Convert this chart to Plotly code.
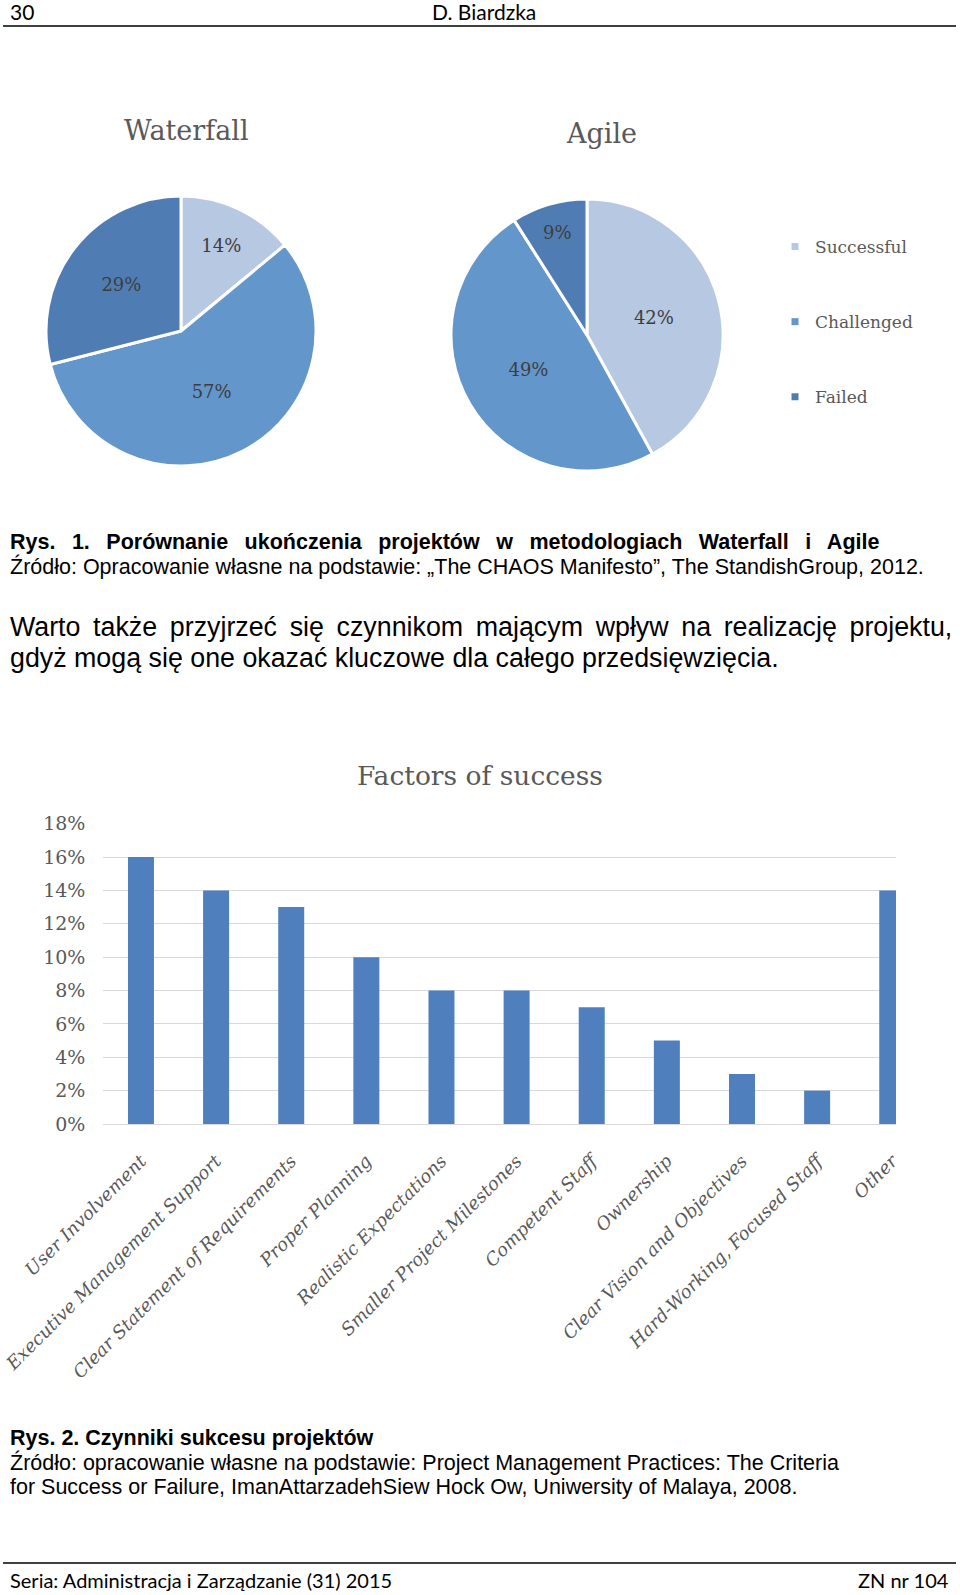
import plotly.graph_objects as go

W, H = 960, 1595

# ---------------- data ----------------
pie_labels = ["Successful", "Challenged", "Failed"]
waterfall_values = [14, 57, 29]
agile_values = [42, 49, 9]
pie_colors = ["#b7c8e2", "#6396cb", "#4f7db3"]

factors = ["User Involvement", "Executive Management Support",
           "Clear Statement of Requirements", "Proper Planning",
           "Realistic Expectations", "Smaller Project Milestones",
           "Competent Staff", "Ownership", "Clear Vision and Objectives",
           "Hard-Working, Focused Staff", "Other"]
factor_values = [0.16, 0.14, 0.13, 0.10, 0.08, 0.08, 0.07, 0.05, 0.03, 0.02, 0.14]

def py(px):
    return 1 - px / H

def px_x(px):
    return px / W

SERIF = "DejaVu Serif"
SANS = "Liberation Sans, Arial"
CAL = "Lato, Open Sans"
GRAY = "#595959"

fig = go.Figure()

# ---------------- pies ----------------
def pie_domain(cx, cy, r):
    return dict(x=[px_x(cx - r), px_x(cx + r)], y=[py(cy + r), py(cy - r)])

for vals, dom in [(waterfall_values, pie_domain(181, 331, 135)),
                  (agile_values, pie_domain(587, 335, 136))]:
    fig.add_trace(go.Pie(
        labels=pie_labels, values=vals, sort=False, direction="clockwise",
        rotation=0, domain=dom, showlegend=False,
        marker=dict(colors=pie_colors, line=dict(color="white", width=3)),
        texttemplate="%{value}%", textposition="inside",
        insidetextorientation="horizontal",
        textfont=dict(family=SERIF, size=18, color="#3d3d3d"),
        hoverinfo="label+percent"))

# legend entries (dummy traces, no data)
for lab, col in zip(pie_labels, pie_colors):
    fig.add_trace(go.Scatter(
        x=[None], y=[None], mode="markers", name=lab, legendgroup=lab,
        marker=dict(symbol="square", size=7, color=col),
        xaxis="x", yaxis="y", showlegend=True))

# ---------------- bar chart ----------------
fig.add_trace(go.Bar(
    x=factors, y=factor_values, marker=dict(color="#4f80bd", line=dict(width=0)),
    showlegend=False, xaxis="x", yaxis="y"))

fig.update_layout(
    width=W, height=H,
    margin=dict(l=0, r=0, t=0, b=0, autoexpand=False),
    paper_bgcolor="white", plot_bgcolor="white",
    bargap=0.654,
    showlegend=True,
    legend=dict(x=px_x(775), y=py(229), xanchor="left", yanchor="top",
                font=dict(family=SERIF, size=17, color=GRAY),
                tracegroupgap=50, itemwidth=30, bgcolor="rgba(0,0,0,0)"),
    xaxis=dict(domain=[px_x(103.4), px_x(896)], range=[-0.5, 10.05],
               type="category", showgrid=False, zeroline=False, showline=False,
               ticks="", tickangle=-45, ticklabelstandoff=22, automargin=False,
               tickfont=dict(family=SERIF, size=18, color=GRAY, style="italic"),
               fixedrange=True),
    yaxis=dict(domain=[py(1124), py(823.3)], range=[0, 0.1802], dtick=0.02,
               tickformat=".0%", showgrid=True, gridcolor="#d9d9d9", gridwidth=1,
               zeroline=True, zerolinecolor="#d9d9d9", zerolinewidth=1,
               showline=False, ticks="", ticklabelstandoff=17, automargin=False,
               tickfont=dict(family=SERIF, size=19, color=GRAY),
               fixedrange=True),
)

ann = []

def text(x, y, s, size, family, color="black", xanchor="left", bold=False, wsp=None):
    if wsp is not None:
        s = '<span style="word-spacing:%.1fpx">' % wsp + s + "</span>"
    if bold:
        s = "<b>" + s + "</b>"
    ann.append(dict(x=px_x(x), y=py(y), xref="paper", yref="paper", text=s,
                    showarrow=False, xanchor=xanchor, yanchor="middle",
                    font=dict(family=family, size=size, color=color)))

# header / footer
text(8, 11, "30", 21, CAL)
text(484, 11, "D. Biardzka", 21, CAL, xanchor="center")
text(8, 1580, "Seria: Administracja i Zarządzanie (31) 2015", 20, CAL)
text(951, 1580, "ZN nr 104", 20, CAL, xanchor="right")

# chart titles
text(186, 131, "Waterfall", 27, SERIF, GRAY, xanchor="center")
text(601, 133, "Agile", 27, SERIF, GRAY, xanchor="center")
text(480, 776, "Factors of success", 26.5, SERIF, GRAY, xanchor="center")

# captions
text(8, 542, "Rys. 1. Porównanie ukończenia projektów w metodologiach Waterfall i Agile", 21.5, SANS, bold=True, wsp=10.5)
text(8, 567, "Źródło: Opracowanie własne na podstawie: „The CHAOS Manifesto”, The StandishGroup, 2012.", 21.5, SANS)
text(8, 627, "Warto także przyjrzeć się czynnikom mającym wpływ na realizację projektu,", 26.8, SANS, wsp=5.2)
text(8, 658, "gdyż mogą się one okazać kluczowe dla całego przedsięwzięcia.", 26.8, SANS)
text(8, 1438, "Rys. 2. Czynniki sukcesu projektów", 21.5, SANS, bold=True)
text(8, 1462, "Źródło: opracowanie własne na podstawie: Project Management Practices: The Criteria", 21.5, SANS)
text(8, 1487, "for Success or Failure, ImanAttarzadehSiew Hock Ow, Uniwersity of Malaya, 2008.", 21.5, SANS)

fig.update_layout(annotations=ann)

fig.add_shape(type="line", xref="paper", yref="paper", x0=px_x(3), x1=px_x(956),
              y0=py(26), y1=py(26), line=dict(color="black", width=1.5))
fig.add_shape(type="line", xref="paper", yref="paper", x0=px_x(3), x1=px_x(956),
              y0=py(1563), y1=py(1563), line=dict(color="black", width=1.5))

fig.write_html("out.html", config={"displayModeBar": False})
